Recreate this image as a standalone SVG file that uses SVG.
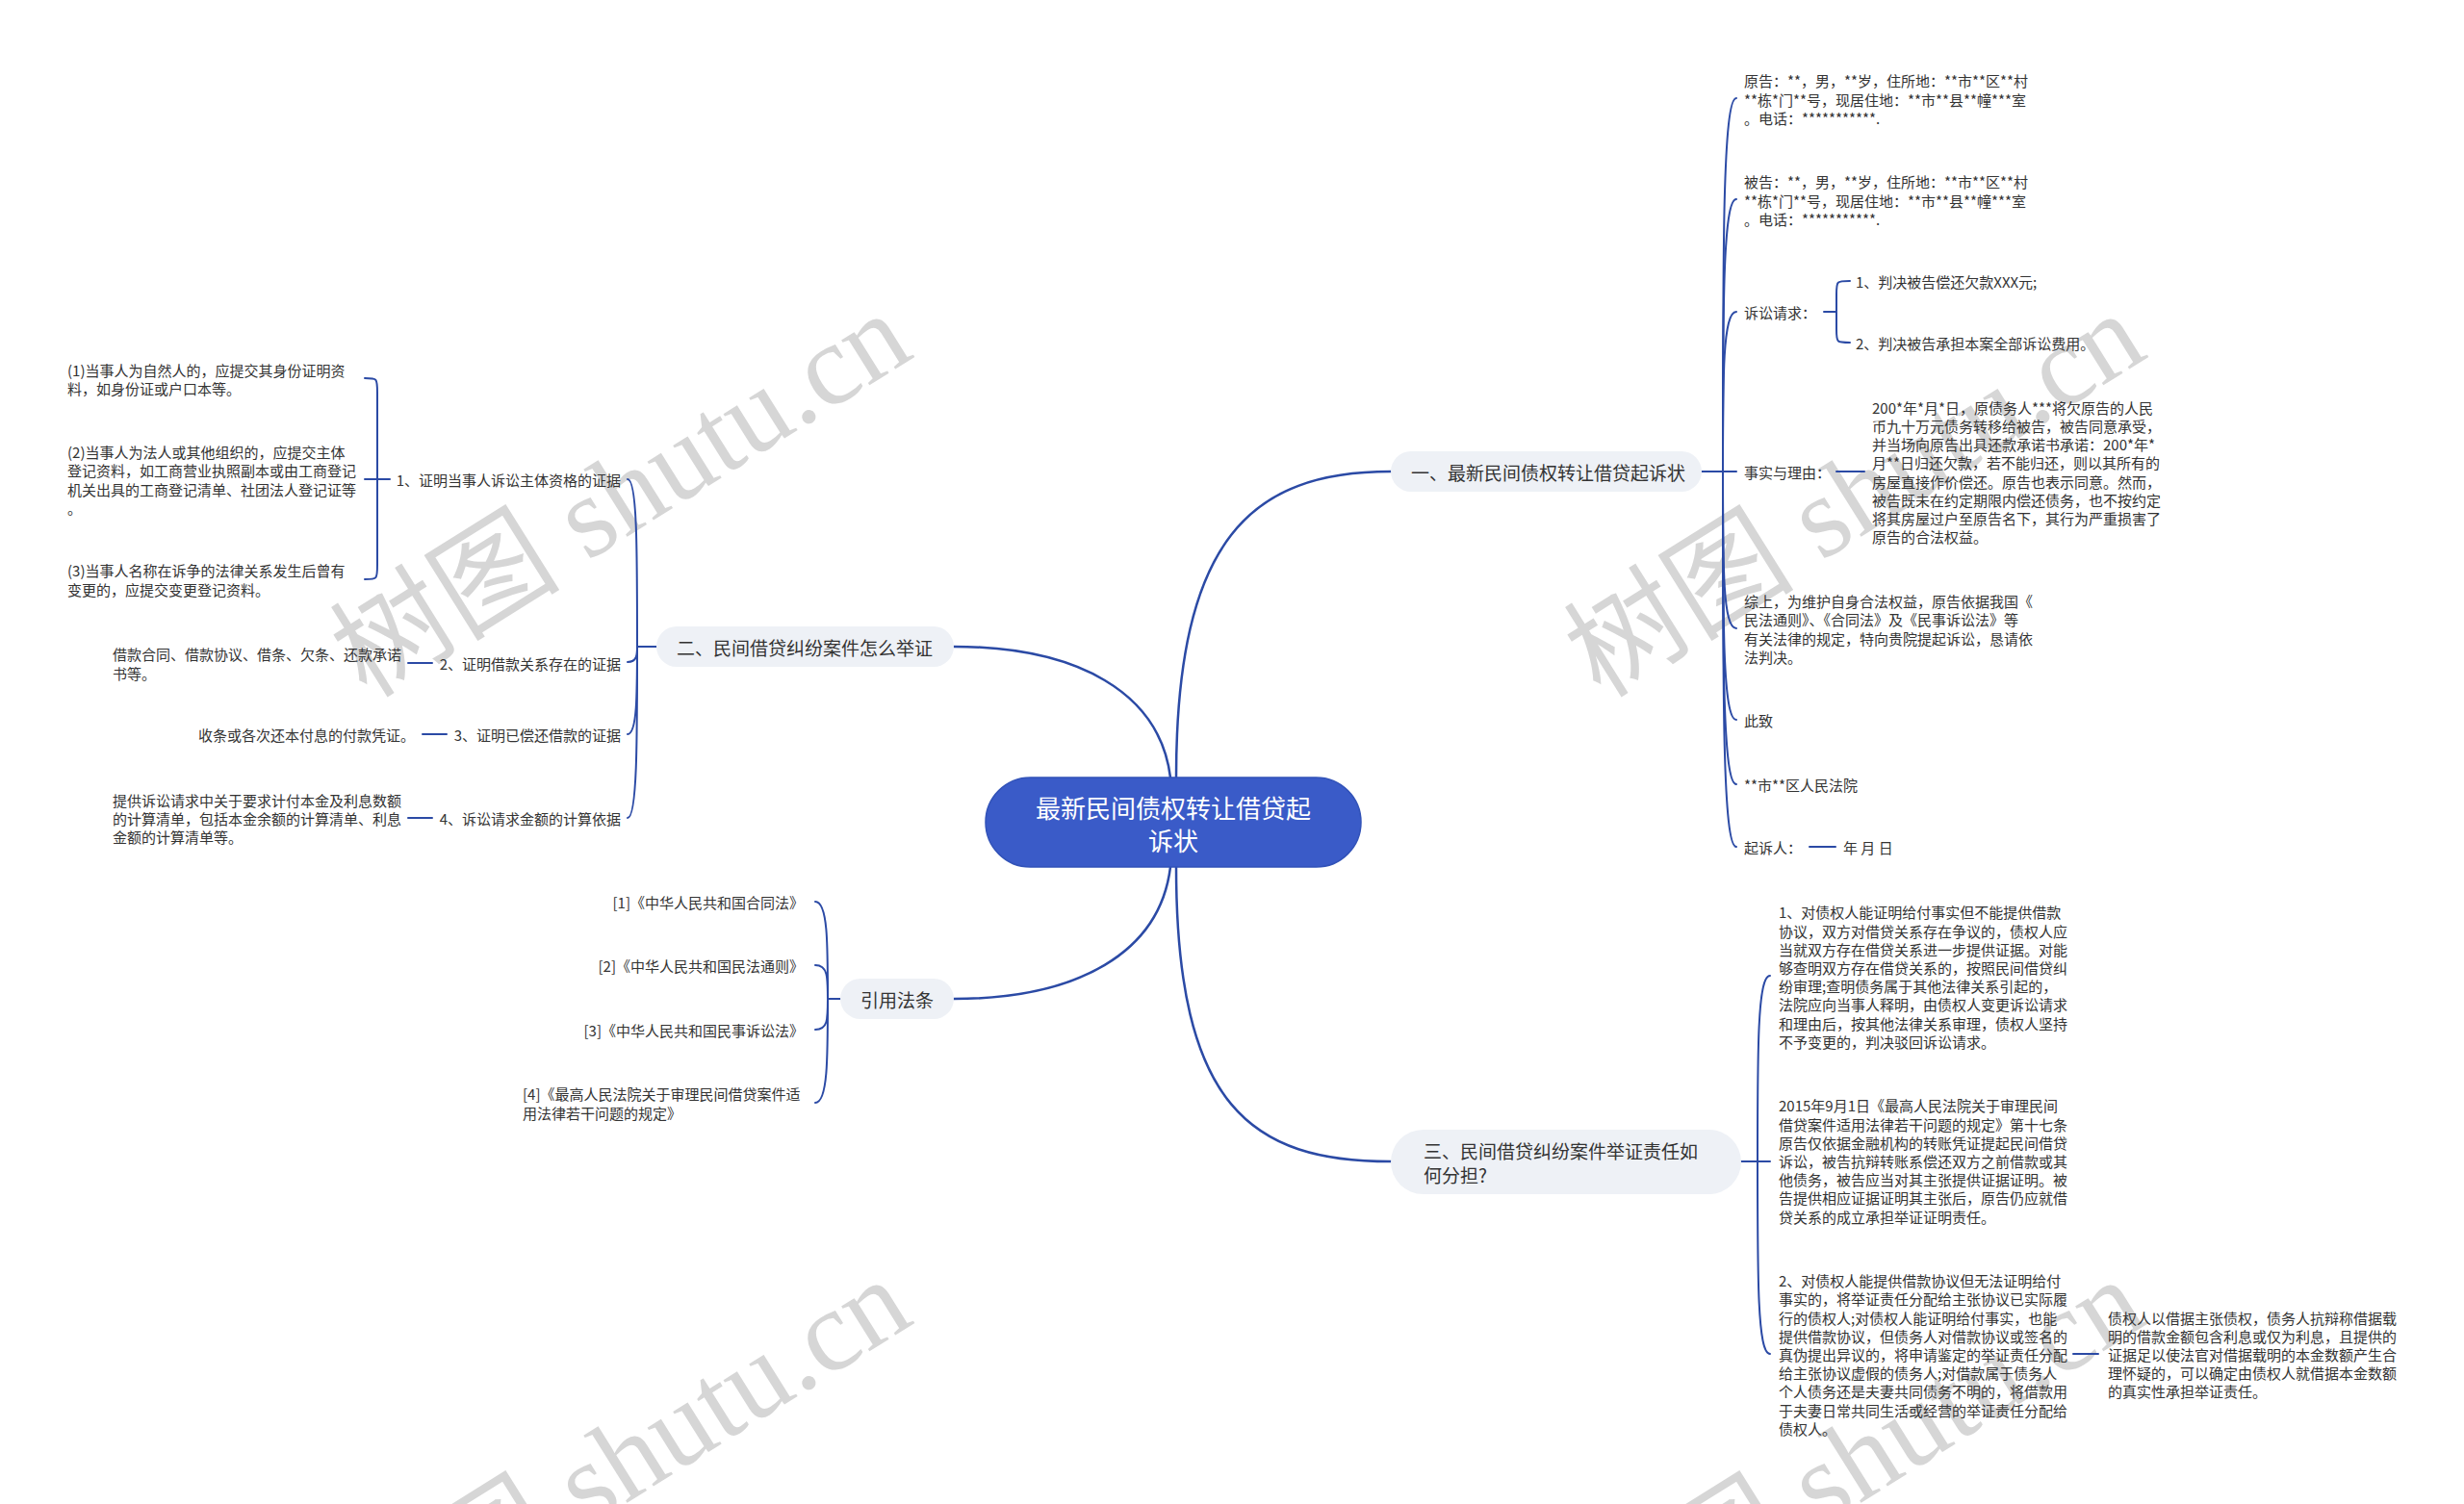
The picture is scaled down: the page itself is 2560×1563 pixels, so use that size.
<svg xmlns="http://www.w3.org/2000/svg" width="2560" height="1563" viewBox="0 0 2560 1563">
<style>
.t{font-family:"Noto Sans CJK SC","Microsoft YaHei",sans-serif;font-size:15px;fill:#333;dominant-baseline:central}
.e{text-anchor:end}
.b{font-size:19px}
.pill{fill:#eef1f6}
.c{fill:none;stroke:#2b4aa5;stroke-width:2;stroke-linecap:round}
.m{stroke-width:2.5}
.wm{font-family:"Liberation Serif","Noto Sans CJK SC",serif;font-size:120px;fill:#cfcfcf;text-anchor:middle;dominant-baseline:central;opacity:0.85}
</style>
<rect width="2560" height="1563" fill="#ffffff"/>
<g id="watermarks">
<text class="wm" transform="translate(645,514) rotate(-32)">树图 shutu.cn</text>
<text class="wm" transform="translate(1927,514) rotate(-32)">树图 shutu.cn</text>
<text class="wm" transform="translate(645,1518) rotate(-32)">树图 shutu.cn</text>
<text class="wm" transform="translate(1927,1518) rotate(-32)">树图 shutu.cn</text>
</g>
<g id="connectors">
<path class="c m" d="M1222,808 C1222,560 1300,490 1445,490"/>
<path class="c m" d="M1216,808 C1205,720 1120,672 991,672"/>
<path class="c m" d="M1216,901 C1205,990 1120,1038 991,1038"/>
<path class="c m" d="M1222,901 C1222,1150 1300,1207 1445,1207"/>
<!-- branch 1 -->
<path class="c" d="M1768,490 L1790,490"/>
<path class="c" d="M1790,490 C1790,257 1790,102 1804,102"/>
<path class="c" d="M1790,490 C1790,320 1790,207 1804,207"/>
<path class="c" d="M1790,490 C1790,390 1790,324 1804,324"/>
<path class="c" d="M1790,490 L1804,490"/>
<path class="c" d="M1790,490 C1790,590 1790,653 1804,653"/>
<path class="c" d="M1790,490 C1790,650 1790,748 1804,748"/>
<path class="c" d="M1790,490 C1790,690 1790,815 1804,815"/>
<path class="c" d="M1790,490 C1790,730 1790,880 1804,880"/>
<path class="c" d="M1895,324 L1908,324"/>
<path class="c" d="M1922,292 C1908,292 1908,292 1908,306 L1908,342 C1908,356 1908,356 1922,356"/>
<path class="c" d="M1908,490 L1937,490"/>
<path class="c" d="M1880,880 L1907,880"/>
<!-- branch 三 -->
<path class="c" d="M1809,1207 L1826,1207"/>
<path class="c" d="M1826,1207 C1826,1090 1826,1014 1839,1014"/>
<path class="c" d="M1826,1207 L1839,1207"/>
<path class="c" d="M1826,1207 C1826,1330 1826,1407 1839,1407"/>
<path class="c" d="M2154,1407 L2180,1407"/>
<!-- branch 二 -->
<path class="c" d="M682,672 L662,672"/>
<path class="c" d="M662,672 C662,570 662,498 652,498"/>
<path class="c" d="M662,672 C662,680 662,688 652,688"/>
<path class="c" d="M662,672 C662,720 662,763 652,763"/>
<path class="c" d="M662,672 C662,770 662,850 652,850"/>
<path class="c" d="M405,498 L379,498"/>
<path class="c" d="M379,393 C392,393 392,393 392,408 L392,587 C392,602 392,602 379,602"/>
<path class="c" d="M449,689 L424,689"/>
<path class="c" d="M464,763 L439,763"/>
<path class="c" d="M449,850 L424,850"/>
<!-- 引用法条 -->
<path class="c" d="M873,1038 L860,1038"/>
<path class="c" d="M860,1038 C860,980 860,937 847,937"/>
<path class="c" d="M860,1038 C860,1015 860,1003 847,1003"/>
<path class="c" d="M860,1038 C860,1060 860,1070 847,1070"/>
<path class="c" d="M860,1038 C860,1100 860,1146 847,1146"/>
</g>
<g id="node-root">
<rect x="1024" y="808" width="390" height="93" rx="46.5" fill="#3a5bc8" stroke="#3152b8" stroke-width="1.5"/>
<text class="t" style="font-size:26px;fill:#fff;text-anchor:middle"><tspan x="1219" y="838">最新民间债权转让借贷起</tspan><tspan x="1219" y="872">诉状</tspan></text>
</g>
<g id="node-b1">
<rect class="pill" x="1445" y="469" width="323" height="42" rx="21"/>
<text class="t b" x="1466" y="490">一、最新民间债权转让借贷起诉状</text>
</g>
<g id="node-b1-plaintiff">
<text class="t"><tspan x="1812" y="83.3">原告：**，男，**岁，住所地：**市**区**村</tspan><tspan x="1812" y="102.5">**栋*门**号，现居住地：**市**县**幢***室</tspan><tspan x="1812" y="121.7">。电话：***********.</tspan></text>
</g>
<g id="node-b1-defendant">
<text class="t"><tspan x="1812" y="188.3">被告：**，男，**岁，住所地：**市**区**村</tspan><tspan x="1812" y="207.5">**栋*门**号，现居住地：**市**县**幢***室</tspan><tspan x="1812" y="226.7">。电话：***********.</tspan></text>
</g>
<g id="node-b1-claims">
<text class="t" x="1812" y="324">诉讼请求：</text>
</g>
<g id="node-b1-claim1"><text class="t" x="1928" y="292">1、判决被告偿还欠款XXX元;</text></g>
<g id="node-b1-claim2"><text class="t" x="1928" y="356">2、判决被告承担本案全部诉讼费用。</text></g>
<g id="node-b1-facts"><text class="t" x="1812" y="490">事实与理由：</text></g>
<g id="node-b1-facts-text">
<text class="t"><tspan x="1945" y="422.8">200*年*月*日，原债务人***将欠原告的人民</tspan><tspan x="1945" y="442">币九十万元债务转移给被告，被告同意承受，</tspan><tspan x="1945" y="461.2">并当场向原告出具还款承诺书承诺：200*年*</tspan><tspan x="1945" y="480.4">月**日归还欠款，若不能归还，则以其所有的</tspan><tspan x="1945" y="499.6">房屋直接作价偿还。原告也表示同意。然而，</tspan><tspan x="1945" y="518.8">被告既未在约定期限内偿还债务，也不按约定</tspan><tspan x="1945" y="538">将其房屋过户至原告名下，其行为严重损害了</tspan><tspan x="1945" y="557.2">原告的合法权益。</tspan></text>
</g>
<g id="node-b1-summary">
<text class="t"><tspan x="1812" y="624.2">综上，为维护自身合法权益，原告依据我国《</tspan><tspan x="1812" y="643.4">民法通则》、《合同法》及《民事诉讼法》等</tspan><tspan x="1812" y="662.6">有关法律的规定，特向贵院提起诉讼，恳请依</tspan><tspan x="1812" y="681.8">法判决。</tspan></text>
</g>
<g id="node-b1-cizhi"><text class="t" x="1812" y="748">此致</text></g>
<g id="node-b1-court"><text class="t" x="1812" y="815">**市**区人民法院</text></g>
<g id="node-b1-sign"><text class="t" x="1812" y="880">起诉人：</text></g>
<g id="node-b1-date"><text class="t" x="1915" y="880">年 月 日</text></g>

<g id="node-b2">
<rect class="pill" x="682" y="651" width="309" height="42" rx="21"/>
<text class="t b" x="703" y="672">二、民间借贷纠纷案件怎么举证</text>
</g>
<g id="node-b2-1"><text class="t e" x="645" y="498">1、证明当事人诉讼主体资格的证据</text></g>
<g id="node-b2-1a"><text class="t"><tspan x="70" y="383.9">(1)当事人为自然人的，应提交其身份证明资</tspan><tspan x="70" y="403.1">料，如身份证或户口本等。</tspan></text></g>
<g id="node-b2-1b"><text class="t"><tspan x="70" y="469.2">(2)当事人为法人或其他组织的，应提交主体</tspan><tspan x="70" y="488.4">登记资料，如工商营业执照副本或由工商登记</tspan><tspan x="70" y="507.6">机关出具的工商登记清单、社团法人登记证等</tspan><tspan x="70" y="526.8">。</tspan></text></g>
<g id="node-b2-1c"><text class="t"><tspan x="70" y="592.4">(3)当事人名称在诉争的法律关系发生后曾有</tspan><tspan x="70" y="611.6">变更的，应提交变更登记资料。</tspan></text></g>
<g id="node-b2-2"><text class="t e" x="645" y="689">2、证明借款关系存在的证据</text></g>
<g id="node-b2-2a"><text class="t"><tspan x="117" y="679.4">借款合同、借款协议、借条、欠条、还款承诺</tspan><tspan x="117" y="698.6">书等。</tspan></text></g>
<g id="node-b2-3"><text class="t e" x="645" y="763">3、证明已偿还借款的证据</text></g>
<g id="node-b2-3a"><text class="t e" x="431" y="763">收条或各次还本付息的付款凭证。</text></g>
<g id="node-b2-4"><text class="t e" x="645" y="850">4、诉讼请求金额的计算依据</text></g>
<g id="node-b2-4a"><text class="t"><tspan x="117" y="830.8">提供诉讼请求中关于要求计付本金及利息数额</tspan><tspan x="117" y="850">的计算清单，包括本金余额的计算清单、利息</tspan><tspan x="117" y="869.2">金额的计算清单等。</tspan></text></g>

<g id="node-b3">
<rect class="pill" x="873" y="1017" width="118" height="42" rx="21"/>
<text class="t b" x="932" y="1038" style="text-anchor:middle">引用法条</text>
</g>
<g id="node-b3-1"><text class="t e" x="835" y="937">[1]《中华人民共和国合同法》</text></g>
<g id="node-b3-2"><text class="t e" x="835" y="1003">[2]《中华人民共和国民法通则》</text></g>
<g id="node-b3-3"><text class="t e" x="835" y="1070">[3]《中华人民共和国民事诉讼法》</text></g>
<g id="node-b3-4"><text class="t"><tspan x="543" y="1136.4">[4]《最高人民法院关于审理民间借贷案件适</tspan><tspan x="543" y="1155.6">用法律若干问题的规定》</tspan></text></g>

<g id="node-b4">
<rect class="pill" x="1445" y="1174" width="364" height="67" rx="33.5"/>
<text class="t b"><tspan x="1479" y="1195">三、民间借贷纠纷案件举证责任如</tspan><tspan x="1479" y="1220">何分担?</tspan></text>
</g>
<g id="node-b4-1"><text class="t"><tspan x="1848" y="947.3">1、对债权人能证明给付事实但不能提供借款</tspan><tspan x="1848" y="966.5">协议，双方对借贷关系存在争议的，债权人应</tspan><tspan x="1848" y="985.7">当就双方存在借贷关系进一步提供证据。对能</tspan><tspan x="1848" y="1004.9">够查明双方存在借贷关系的，按照民间借贷纠</tspan><tspan x="1848" y="1024.1">纷审理;查明债务属于其他法律关系引起的，</tspan><tspan x="1848" y="1043.3">法院应向当事人释明，由债权人变更诉讼请求</tspan><tspan x="1848" y="1062.5">和理由后，按其他法律关系审理，债权人坚持</tspan><tspan x="1848" y="1081.7">不予变更的，判决驳回诉讼请求。</tspan></text></g>
<g id="node-b4-2"><text class="t"><tspan x="1848" y="1148.4">2015年9月1日《最高人民法院关于审理民间</tspan><tspan x="1848" y="1167.6">借贷案件适用法律若干问题的规定》第十七条</tspan><tspan x="1848" y="1186.8">原告仅依据金融机构的转账凭证提起民间借贷</tspan><tspan x="1848" y="1206">诉讼，被告抗辩转账系偿还双方之前借款或其</tspan><tspan x="1848" y="1225.2">他债务，被告应当对其主张提供证据证明。被</tspan><tspan x="1848" y="1244.4">告提供相应证据证明其主张后，原告仍应就借</tspan><tspan x="1848" y="1263.6">贷关系的成立承担举证证明责任。</tspan></text></g>
<g id="node-b4-3"><text class="t"><tspan x="1848" y="1330.2">2、对债权人能提供借款协议但无法证明给付</tspan><tspan x="1848" y="1349.4">事实的，将举证责任分配给主张协议已实际履</tspan><tspan x="1848" y="1368.6">行的债权人;对债权人能证明给付事实，也能</tspan><tspan x="1848" y="1387.8">提供借款协议，但债务人对借款协议或签名的</tspan><tspan x="1848" y="1407">真伪提出异议的，将申请鉴定的举证责任分配</tspan><tspan x="1848" y="1426.2">给主张协议虚假的债务人;对借款属于债务人</tspan><tspan x="1848" y="1445.4">个人债务还是夫妻共同债务不明的，将借款用</tspan><tspan x="1848" y="1464.6">于夫妻日常共同生活或经营的举证责任分配给</tspan><tspan x="1848" y="1483.8">债权人。</tspan></text></g>
<g id="node-b4-3a"><text class="t"><tspan x="2190" y="1368.6">债权人以借据主张债权，债务人抗辩称借据载</tspan><tspan x="2190" y="1387.8">明的借款金额包含利息或仅为利息，且提供的</tspan><tspan x="2190" y="1407">证据足以使法官对借据载明的本金数额产生合</tspan><tspan x="2190" y="1426.2">理怀疑的，可以确定由债权人就借据本金数额</tspan><tspan x="2190" y="1445.4">的真实性承担举证责任。</tspan></text></g>
</svg>
